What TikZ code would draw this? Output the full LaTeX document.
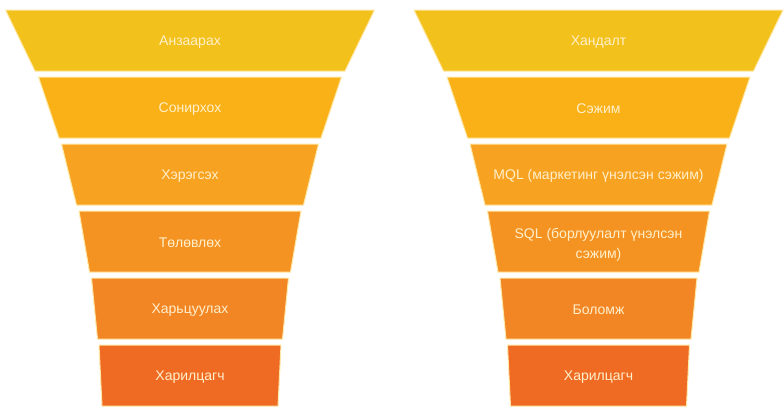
\documentclass[tikz,border=0pt]{standalone}
\usepackage{fontspec}
\setmainfont{Liberation Sans}
\definecolor{cA}{HTML}{F3C11B}
\definecolor{cB}{HTML}{F9B117}
\definecolor{cC}{HTML}{F7A220}
\definecolor{cD}{HTML}{F59322}
\definecolor{cE}{HTML}{F28524}
\definecolor{cF}{HTML}{EF6B24}
\definecolor{edge}{HTML}{FFE7A6}
\definecolor{txt}{HTML}{FFF0CC}
\tikzset{
  band/.style={draw=edge, line width=1pt, line join=miter},
  lbl/.style={text=txt, font=\fontsize{14}{20}\selectfont, align=center, inner sep=0pt}
}
\begin{document}
\begin{tikzpicture}[x=1pt,y=-1pt]
\useasboundingbox (0,0) rectangle (784,415);
% geometry: tops, bottoms, half widths
\def\bands{10/71/184.5/155/cA, 77/138/151.5/131/cB, 144/205/128.5/113.5/cC, 211/272/111/100.5/cD, 278/339/98.5/92.5/cE, 345/406/91/88/cF}
\foreach \cx in {190,598.5}{
  \foreach \t/\b/\ht/\hb/\c in \bands {
    \fill[\c, band] (\cx-\ht,\t) -- (\cx+\ht,\t) -- (\cx+\hb,\b) -- (\cx-\hb,\b) -- cycle;
  }
}
\node[lbl] (l1) at (190,42) {Анзаарах};
\node[lbl] (l2) at (190,109) {Сонирхох};
\node[lbl] (l3) at (190,176) {Хэрэгсэх};
\node[lbl] (l4) at (190,243) {Төлөвлөх};
\node[lbl] (l5) at (190,310) {Харьцуулах};
\node[lbl] (l6) at (190,377) {Харилцагч};
\node[lbl] (r1) at (598.5,42) {Хандалт};
\node[lbl] (r2) at (598.5,109) {Сэжим};
\node[lbl] (r3) at (598.5,176) {MQL (маркетинг үнэлсэн сэжим)};
\node[lbl] (r4) at (598.5,245) {SQL (борлуулалт үнэлсэн\\сэжим)};
\node[lbl] (r5) at (598.5,310) {Боломж};
\node[lbl] (r6) at (598.5,377) {Харилцагч};
\end{tikzpicture}
\end{document}
